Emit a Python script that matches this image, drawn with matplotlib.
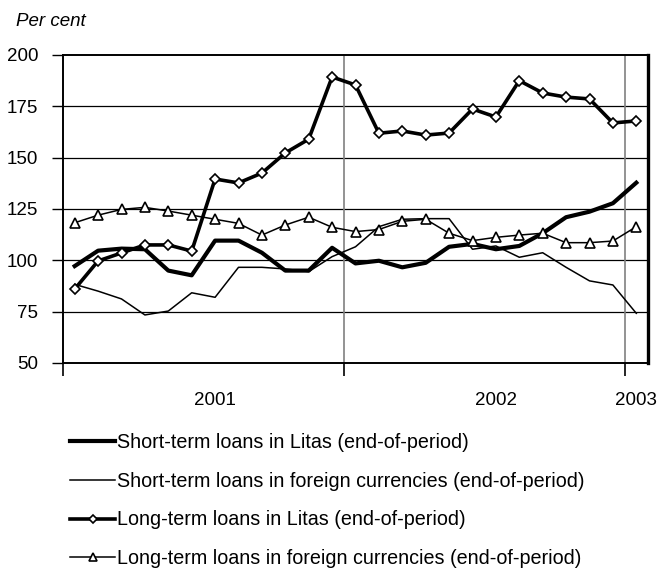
import matplotlib
matplotlib.use("Agg")
import matplotlib.pyplot as plt
import numpy as np

plt.rcParams['font.family'] = ['Liberation Sans', 'DejaVu Sans']

year_labels = ["2001", "2002", "2003"]
year_label_pos = [6, 18, 24]
year_bounds = [-0.5, 11.5, 23.5]

short_litas = [97.2, 104.7, 105.7, 105.4, 95.0, 92.7, 109.6, 109.6, 103.7, 95.0, 95.0, 106.1,
               98.5, 99.8, 96.6, 98.8, 106.6, 108.0, 105.4, 107.0, 113.2, 121.0, 123.7, 127.8, 137.8]
short_foreign = [88.3, 85.0, 81.2, 73.4, 75.3, 84.2, 82.0, 96.6, 96.6, 95.8, 94.5, 101.8,
                 106.6, 116.4, 120.0, 120.3, 120.3, 105.4, 107.0, 101.5, 103.7, 96.6, 90.0, 88.0, 74.2]
long_litas = [86.0, 99.7, 103.6, 107.5, 107.5, 104.5, 139.6, 137.7, 142.5, 152.3, 159.0, 189.3,
              185.4, 161.9, 163.0, 161.0, 162.0, 173.7, 169.8, 187.5, 181.5, 179.5, 178.6, 166.9, 167.9]
long_foreign = [118.3, 122.0, 124.8, 125.8, 124.0, 122.0, 120.0, 118.0, 112.3, 117.2, 121.0, 116.1,
                114.0, 115.0, 119.0, 120.0, 113.2, 109.6, 111.2, 112.3, 113.2, 108.6, 108.6, 109.4, 116.4]

labels = ["Short-term loans in Litas (end-of-period)",
          "Short-term loans in foreign currencies (end-of-period)",
          "Long-term loans in Litas (end-of-period)",
          "Long-term loans in foreign currencies (end-of-period)"]

x = np.arange(len(short_litas))

fig = plt.figure(figsize=(6.7, 5.73), dpi=100)
ax = fig.add_axes([63/670, 1-363/573, (648-63)/670, (363-55)/573])

for yv in [75, 100, 125, 150, 175]:
    ax.axhline(yv, color='black', lw=0.9, zorder=1)
for xb in year_bounds[1:]:
    ax.axvline(xb, color='#808080', lw=1.2, zorder=1)

l1, = ax.plot(x, short_litas, color='black', lw=3.0, zorder=3, label=labels[0])
l2, = ax.plot(x, short_foreign, color='black', lw=1.1, zorder=3, label=labels[1])
l3, = ax.plot(x, long_litas, color='black', lw=2.6, marker='D', ms=5.5, mfc='white', mec='black',
              mew=1.2, zorder=4, label=labels[2])
l4, = ax.plot(x, long_foreign, color='black', lw=1.1, marker='^', ms=7.5, mfc='white', mec='black',
              mew=1.2, zorder=4, label=labels[3])

ax.set_xlim(-0.5, 24.5)
ax.set_ylim(50, 200)
ax.set_yticks([50, 75, 100, 125, 150, 175, 200])
ax.tick_params(axis='y', length=8, width=1, pad=10, labelsize=13.5, direction='out')
ax.set_xticks(year_label_pos)
ax.set_xticklabels(year_labels)
ax.tick_params(axis='x', which='major', length=0, pad=21, labelsize=13.5)
ax.set_xticks(year_bounds, minor=True)
ax.tick_params(axis='x', which='minor', length=9, width=1.2, direction='out')
for t, c in zip(ax.xaxis.get_minor_ticks(), ['black', '#808080', '#808080']):
    t.tick1line.set_color(c)

for s in ['left', 'bottom', 'top']:
    ax.spines[s].set_linewidth(1.4)
ax.spines['right'].set_linewidth(2.4)

fig.text(16/670, 1-22/573, "Per cent", style='italic', fontsize=13.5, va='center', ha='left')

fig.legend(handles=[l1, l2, l3, l4], loc='upper left', bbox_to_anchor=(70/670, 1-433/573),
           frameon=False, fontsize=14.2, handlelength=2.3, handletextpad=0.1,
           labelspacing=1.0, numpoints=1, borderaxespad=0, borderpad=0, markerscale=0.75)

fig.savefig("out.png", dpi=100)
